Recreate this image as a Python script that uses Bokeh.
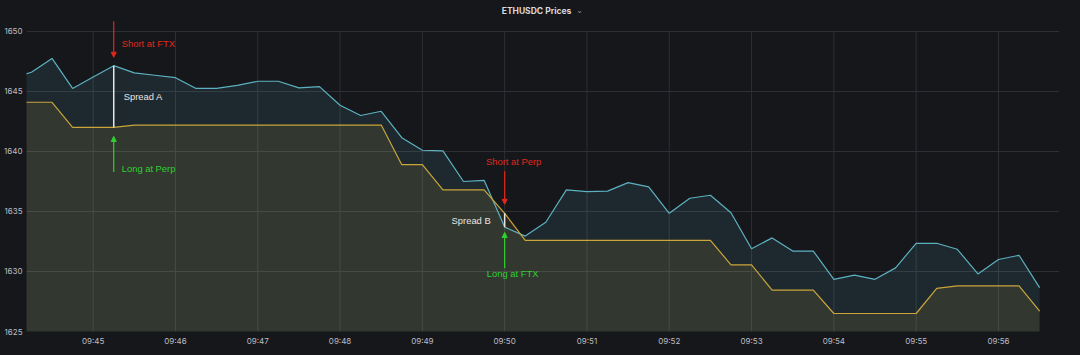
import pandas as pd
from bokeh.plotting import figure
from bokeh.models import (Range1d, FixedTicker, DatetimeTickFormatter, Label,
                          Arrow, NormalHead)
from bokeh.embed import file_html
from bokeh.resources import INLINE

# ---------------- data ----------------
DAY = "2022-08-10"
start_time = "09:44:00"
step_seconds = 15
ftx_price = [1646.1, 1646.6, 1647.75, 1645.25, 1646.2, 1647.15, 1646.55, 1646.35,
             1646.15, 1645.25, 1645.25, 1645.5, 1645.85, 1645.85, 1645.3, 1645.4,
             1643.85, 1643.0, 1643.35, 1641.15, 1640.1, 1640.05, 1637.5, 1637.6,
             1633.7, 1632.95, 1634.1, 1636.8, 1636.65, 1636.7, 1637.4, 1637.05,
             1634.85, 1636.1, 1636.35, 1634.9, 1631.9, 1632.8, 1631.7, 1631.7,
             1629.35, 1629.7, 1629.35, 1630.3, 1632.35, 1632.35, 1631.85, 1629.8,
             1631.0, 1631.35, 1628.65]
perp_price = [1644.1, 1644.1, 1644.1, 1642.0, 1642.0, 1642.0, 1642.2, 1642.2,
              1642.2, 1642.2, 1642.2, 1642.2, 1642.2, 1642.2, 1642.2, 1642.2,
              1642.2, 1642.2, 1642.2, 1638.9, 1638.9, 1636.8, 1636.8, 1636.8,
              1634.85, 1632.6, 1632.6, 1632.6, 1632.6, 1632.6, 1632.6, 1632.6,
              1632.6, 1632.6, 1632.6, 1630.55, 1630.55, 1628.45, 1628.45, 1628.45,
              1626.5, 1626.5, 1626.5, 1626.5, 1626.5, 1628.6, 1628.8, 1628.8,
              1628.8, 1628.8, 1626.7]
x_tick_labels = ["09:45", "09:46", "09:47", "09:48", "09:49", "09:50",
                 "09:51", "09:52", "09:53", "09:54", "09:55", "09:56"]
y_ticks = [1625, 1630, 1635, 1640, 1645, 1650]
x_start, x_end = "09:44:11.4", "09:56:44.5"
y_start, y_end = 1625, 1650
title_text = "ETHUSDC Prices"
trade_times = ["09:45:15", "09:50:00"]
trade_spread_labels = ["Spread A", "Spread B"]
trade_short_labels = ["Short at FTX", "Short at Perp"]
trade_long_labels = ["Long at Perp", "Long at FTX"]


def ts(s):
    return pd.Timestamp(f"{DAY} {s}")


def ms(s):
    return ts(s).value / 1e6


t0 = ts(start_time)
times = [t0 + pd.Timedelta(seconds=step_seconds * i) for i in range(len(ftx_price))]

# ---------------- styling ----------------
BG = "#16171b"
CYAN = "#6ed0e0"
YELLOW = "#eab839"
CYAN_LINE = "#5cb1c1"
YELLOW_LINE = "#c9a53a"
RED = "#e0281d"
GREEN = "#2fd12f"
WHITE = "#e6e6e6"
AXIS_TXT = "#bdbec4"
GRID = "#2e2f34"
FONT = "Inter"
ANN_FONT = "Liberation Sans"

W, H = 1080, 355
BORDER_L, BORDER_R, BORDER_B = 26, 21, 24
PX_PER_UNIT = 12.02
TOP_GAP_PX = 31  # space above the 1650 line, kept inside the frame for the title / arrow

p = figure(width=W, height=H, x_axis_type="datetime",
           output_backend="svg", toolbar_location=None,
           x_range=Range1d(ts(x_start), ts(x_end)),
           y_range=Range1d(y_start, y_end + TOP_GAP_PX / PX_PER_UNIT),
           min_border_left=BORDER_L, min_border_right=BORDER_R,
           min_border_top=0, min_border_bottom=BORDER_B)
p.background_fill_color = BG
p.border_fill_color = BG
p.outline_line_color = None

# vertical grid lines only between y_start and y_end
tick_times = [ts(l) for l in x_tick_labels]
p.segment(x0=tick_times, y0=[y_start] * len(tick_times),
          x1=tick_times, y1=[y_end] * len(tick_times),
          line_color=GRID, line_width=1, level="underlay")
p.xgrid.visible = False

# fills and lines
p.varea(x=times, y1=y_start - 10, y2=ftx_price, fill_color=CYAN, fill_alpha=0.1)
p.varea(x=times, y1=y_start - 10, y2=perp_price, fill_color=YELLOW, fill_alpha=0.1)
p.line(times, ftx_price, line_color=CYAN_LINE, line_width=1.2)
p.line(times, perp_price, line_color=YELLOW_LINE, line_width=1.2)

# axes
p.xaxis.ticker = FixedTicker(ticks=[ms(l) for l in x_tick_labels])
p.xaxis.formatter = DatetimeTickFormatter(
    milliseconds="%H:%M", seconds="%H:%M", minsec="%H:%M", minutes="%H:%M",
    hourmin="%H:%M", hours="%H:%M", days="%H:%M", months="%H:%M", years="%H:%M")
p.yaxis.ticker = FixedTicker(ticks=y_ticks)
for ax in (p.xaxis, p.yaxis):
    ax.axis_line_color = None
    ax.major_tick_line_color = None
    ax.minor_tick_line_color = None
    ax.major_tick_out = 0
    ax.major_tick_in = 0
    ax.minor_tick_out = 0
    ax.minor_tick_in = 0
    ax.major_label_text_color = AXIS_TXT
    ax.major_label_text_font = FONT
    ax.major_label_text_font_size = "8px"
    ax.major_label_standoff = 4
p.ygrid.ticker = p.yaxis.ticker
p.ygrid.grid_line_color = GRID
p.ygrid.grid_line_width = 1

# trades annotations
idx = {t: times.index(ts(t)) for t in trade_times}
layout = [
    dict(short=(8, 1.85, "left"), spread=(10, "left"), long=(8, -3.4, "left"),
         sgap=0.7, slen=3.0, lgap=0.75, llen=2.95),
    dict(short=(9, 4.35, "center"), spread=(-14, "right"), long=(8, -3.9, "center"),
         sgap=0.75, slen=2.75, lgap=0.45, llen=2.95),
]
ANN_SIZE = "9.4px"
for k, t in enumerate(trade_times):
    i = idx[t]
    up = max(ftx_price[i], perp_price[i])
    lo = min(ftx_price[i], perp_price[i])
    x = ms(t)
    L = layout[k]
    p.segment(x0=[times[i]], y0=[lo], x1=[times[i]], y1=[up],
              line_color=WHITE, line_width=1.5)
    p.add_layout(Arrow(end=NormalHead(size=5, fill_color=RED, line_color=RED),
                       x_start=x, y_start=up + L["sgap"] + L["slen"],
                       x_end=x, y_end=up + L["sgap"],
                       line_color=RED, line_width=1.2))
    p.add_layout(Arrow(end=NormalHead(size=5, fill_color=GREEN, line_color=GREEN),
                       x_start=x, y_start=lo - L["lgap"] - L["llen"],
                       x_end=x, y_end=lo - L["lgap"],
                       line_color=GREEN, line_width=1.2))
    dx, dy, al = L["short"]
    p.add_layout(Label(x=x, y=up + dy, x_offset=dx, text=trade_short_labels[k],
                       text_color=RED, text_font=ANN_FONT, text_font_size=ANN_SIZE,
                       text_align=al, text_baseline="middle"))
    dx, al = L["spread"]
    p.add_layout(Label(x=x, y=(up + lo) / 2, x_offset=dx, text=trade_spread_labels[k],
                       text_color=WHITE, text_font=ANN_FONT, text_font_size=ANN_SIZE,
                       text_align=al, text_baseline="middle"))
    dx, dy, al = L["long"]
    p.add_layout(Label(x=x, y=lo + dy, x_offset=dx, text=trade_long_labels[k],
                       text_color=GREEN, text_font=ANN_FONT, text_font_size=ANN_SIZE,
                       text_align=al, text_baseline="middle"))

# title (inside the extended frame, near the top)
frame_h = H - BORDER_B
p.add_layout(Label(x=536 - BORDER_L, y=frame_h - 10, x_units="screen", y_units="screen",
                   text=title_text, text_color="#d8d9da", text_font=FONT,
                   text_font_style="bold", text_font_size="8.5px",
                   text_align="center", text_baseline="middle"))
p.add_layout(Label(x=579 - BORDER_L, y=frame_h - 10, x_units="screen", y_units="screen",
                   text="⌄", text_color="#8e8e95", text_font="DejaVu Sans",
                   text_font_size="8px", text_align="center", text_baseline="middle"))

html = file_html(p, INLINE)
html = html.replace("<head>", "<head><style>html,body{background:%s;margin:0;}</style>" % BG, 1)
open("out.html", "w").write(html)
